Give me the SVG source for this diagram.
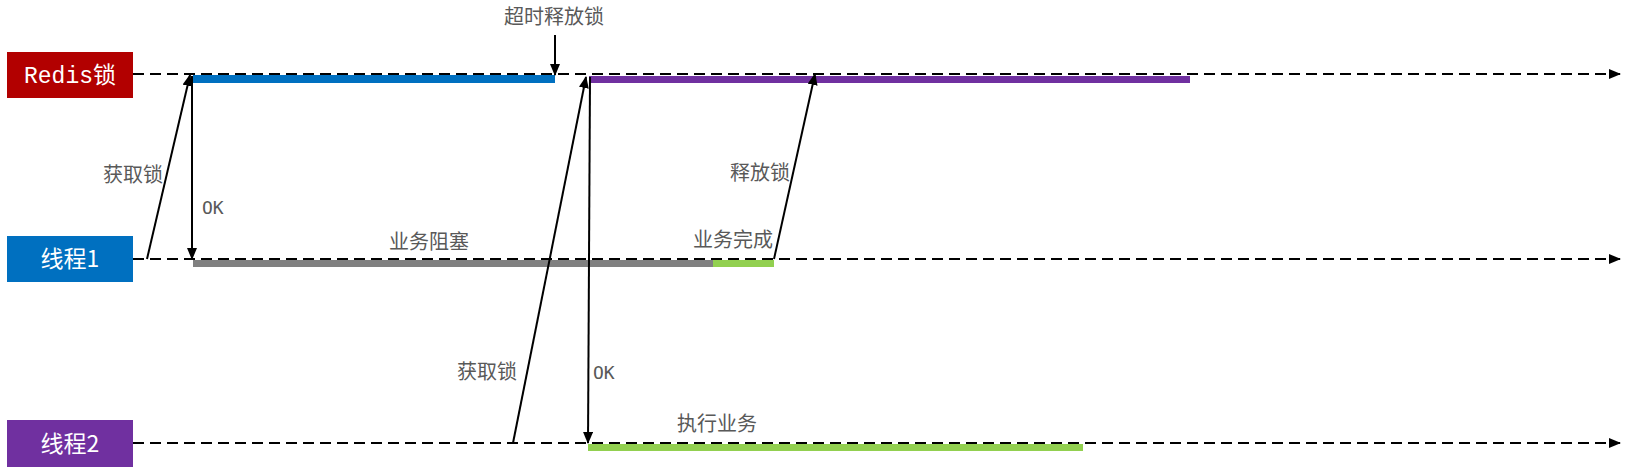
<svg xmlns="http://www.w3.org/2000/svg" width="1639" height="475" viewBox="0 0 1639 475">
<style>
.lbl{font-family:"Noto Sans CJK SC","Noto Sans",sans-serif;font-size:20px;fill:#595959}
.ok{font-family:"DejaVu Sans Mono","Liberation Mono",monospace;font-size:18px;fill:#595959}
.hdr{font-family:"Liberation Mono","Noto Sans CJK SC",monospace;font-size:23px;fill:#fff}
.hdr2{font-family:"Noto Sans CJK SC","Noto Sans",sans-serif;font-size:23px;fill:#fff}
.dash{stroke:#000;stroke-width:2;stroke-dasharray:11 6;fill:none}
.arr{stroke:#000;stroke-width:2;fill:none}
</style>
<defs>
<marker id="ah" markerWidth="12" markerHeight="10" refX="11" refY="5" orient="auto" markerUnits="userSpaceOnUse">
<path d="M0,0 L12,5 L0,10 Z" fill="#000"/>
</marker>
</defs>
<g id="redis">
<rect x="7" y="52" width="126" height="46" fill="#B20000"/>
<text class="hdr" x="70" y="83" text-anchor="middle">Redis锁</text>
</g>
<g id="thread1">
<rect x="7" y="236" width="126" height="46" fill="#0070C0"/>
<text class="hdr2" x="70" y="267" text-anchor="middle">线程1</text>
</g>
<g id="thread2">
<rect x="7" y="420" width="126" height="47" fill="#7030A0"/>
<text class="hdr2" x="70" y="452" text-anchor="middle">线程2</text>
</g>
<g id="bars">
<rect x="193" y="75" width="362" height="8" fill="#0070C0"/>
<rect x="589" y="76" width="601" height="7" fill="#7030A0"/>
<rect x="193" y="260" width="520" height="7" fill="#808080"/>
<rect x="713" y="260" width="61" height="7" fill="#92D050"/>
<rect x="588" y="444" width="495" height="7" fill="#92D050"/>
</g>
<g id="connectors">
<line class="dash" x1="133" y1="74" x2="1620" y2="74" marker-end="url(#ah)"/>
<line class="dash" x1="133" y1="259" x2="1620" y2="259" marker-end="url(#ah)"/>
<line class="dash" x1="133" y1="443" x2="1620" y2="443" marker-end="url(#ah)"/>
<line class="arr" x1="555" y1="35" x2="555" y2="75" marker-end="url(#ah)"/>
<line class="arr" x1="147" y1="259" x2="190" y2="75" marker-end="url(#ah)"/>
<line class="arr" x1="192" y1="76" x2="192" y2="259" marker-end="url(#ah)"/>
<line class="arr" x1="774" y1="259" x2="815" y2="74" marker-end="url(#ah)"/>
<line class="arr" x1="513" y1="443" x2="586" y2="77" marker-end="url(#ah)"/>
<line class="arr" x1="590" y1="77" x2="588" y2="443" marker-end="url(#ah)"/>
</g>
<g id="labels">
<text class="lbl" x="554" y="24" text-anchor="middle">超时释放锁</text>
<text class="lbl" x="163" y="182" text-anchor="end">获取锁</text>
<text class="ok" x="202" y="214">OK</text>
<text class="lbl" x="429" y="249" text-anchor="middle">业务阻塞</text>
<text class="lbl" x="773" y="247" text-anchor="end">业务完成</text>
<text class="lbl" x="790" y="180" text-anchor="end">释放锁</text>
<text class="lbl" x="517" y="379" text-anchor="end">获取锁</text>
<text class="ok" x="593" y="379">OK</text>
<text class="lbl" x="717" y="431" text-anchor="middle">执行业务</text>
</g>
</svg>
